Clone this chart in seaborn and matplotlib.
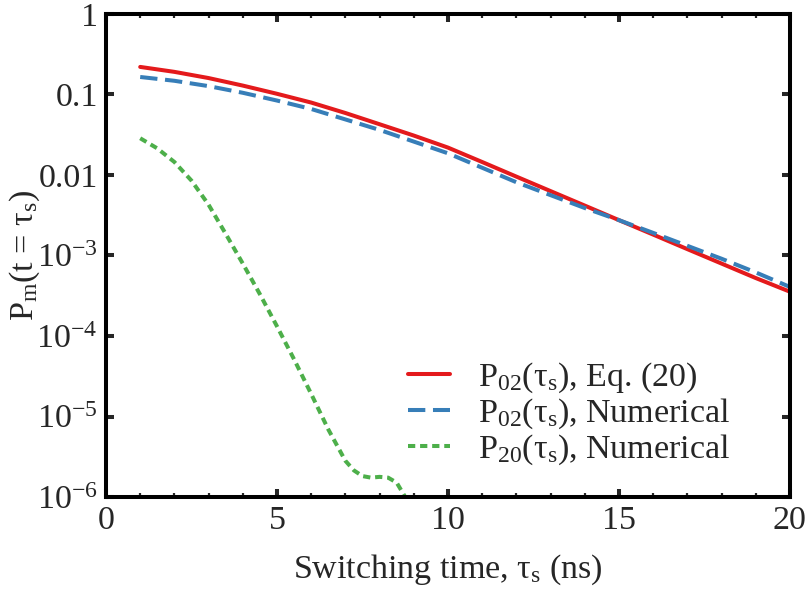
import matplotlib
matplotlib.use("Agg")
import matplotlib.pyplot as plt
from matplotlib.ticker import FixedLocator, FixedFormatter, MultipleLocator, NullLocator
import seaborn as sns
import pandas as pd

# Switching time (ns)
t_eq = [1, 2, 3, 4, 5, 6, 7, 8, 9, 10, 11, 12, 13, 14, 15, 16, 17, 18, 19, 20]
# P02 from Eq. (20)
p02_eq = [0.220, 0.191, 0.160, 0.129, 0.102, 0.0794, 0.0589, 0.0427, 0.0309, 0.0219,
          0.0145, 9.55e-3, 6.31e-3, 4.17e-3, 2.75e-3, 1.82e-3, 1.20e-3, 7.94e-4, 5.25e-4, 3.55e-4]
# P02 numerical
p02_num = [0.165, 0.148, 0.127, 0.105, 0.0841, 0.0661, 0.0490, 0.0363, 0.0260, 0.0186,
           0.0123, 8.13e-3, 5.62e-3, 3.89e-3, 2.75e-3, 1.91e-3, 1.32e-3, 9.12e-4, 6.17e-4, 4.07e-4]
# P20 numerical
t_20 = [1.0, 1.5, 2.0, 2.5, 3.0, 3.5, 4.0, 4.5, 5.0, 5.5, 6.0, 6.5, 7.0, 7.25, 7.5,
        7.75, 8.0, 8.25, 8.5, 8.75, 9.0]
p20_num = [0.0286, 0.0214, 0.0145, 8.51e-3, 4.27e-3, 1.86e-3, 7.94e-4, 3.31e-4, 1.32e-4,
           5.13e-5, 1.91e-5, 6.92e-6, 2.82e-6, 2.14e-6, 1.82e-6, 1.74e-6, 1.78e-6, 1.74e-6,
           1.51e-6, 1.0e-6, 5.0e-7]

labels = [r"P$_{02}$(τ$_{\mathrm{s}}$), Eq. (20)",
          r"P$_{02}$(τ$_{\mathrm{s}}$), Numerical",
          r"P$_{20}$(τ$_{\mathrm{s}}$), Numerical"]
colors = ["#e41a1c", "#377eb8", "#4daf4a"]

y_ticks = [1, 0.1, 0.01, 1e-3, 1e-4, 1e-5, 1e-6]
y_tick_labels = ["1", "0.1", "0.01", r"10$^{-3}$", r"10$^{-4}$", r"10$^{-5}$", r"10$^{-6}$"]

sns.set_style("ticks")
plt.rcParams["font.family"] = ["Liberation Serif", "DejaVu Serif"]
plt.rcParams["mathtext.fontset"] = "custom"
plt.rcParams["mathtext.rm"] = "Liberation Serif"
plt.rcParams["mathtext.it"] = "Liberation Serif:italic"
plt.rcParams["mathtext.bf"] = "Liberation Serif:bold"

fig = plt.figure(figsize=(8.11, 5.90), dpi=100)
ax = fig.add_axes([0.1307, 0.1576, 0.8433, 0.8187])

df_eq = pd.DataFrame({"t": t_eq, "p": p02_eq})
df_num = pd.DataFrame({"t": t_eq, "p": p02_num})
df_20 = pd.DataFrame({"t": t_20, "p": p20_num})

lw = 2.9
sns.lineplot(data=df_eq, x="t", y="p", ax=ax, color=colors[0], lw=lw,
             label=labels[0], sort=False)
sns.lineplot(data=df_num, x="t", y="p", ax=ax, color=colors[1], lw=lw,
             linestyle=(0, (4.3, 1.9)), label=labels[1], sort=False)
sns.lineplot(data=df_20, x="t", y="p", ax=ax, color=colors[2], lw=lw,
             linestyle=(0, (1.8, 1.2)), label=labels[2], sort=False)

ax.set_yscale("log")
ax.set_xlim(0, 20)
ax.set_ylim(1e-6, 1)

ax.yaxis.set_major_locator(FixedLocator(y_ticks))
ax.yaxis.set_major_formatter(FixedFormatter(y_tick_labels))
ax.yaxis.set_minor_locator(NullLocator())
ax.xaxis.set_major_locator(MultipleLocator(5))
ax.xaxis.set_minor_locator(MultipleLocator(1))

fs = 24.5
ax.tick_params(axis="both", which="major", direction="in", length=6, width=2.9,
               top=True, right=True, labelsize=fs, pad=6)
ax.tick_params(axis="both", which="minor", direction="in", length=3, width=1.6,
               top=True, right=True)
for sp in ax.spines.values():
    sp.set_linewidth(2.9)
    sp.set_color("black")

ax.set_xlabel(r"Switching time, τ$_{\mathrm{s}}$ (ns)", fontsize=fs, labelpad=12)
ax.set_ylabel(r"P$_{\mathrm{m}}$(t = τ$_{\mathrm{s}}$)", fontsize=fs, labelpad=-4)

leg = ax.legend(loc="lower left", bbox_to_anchor=(0.441, 0.062), frameon=False,
                fontsize=fs, handlelength=1.24, handletextpad=0.82, labelspacing=0.05,
                borderaxespad=0.0, borderpad=0.0)

fig.savefig("out.png", dpi=100)
